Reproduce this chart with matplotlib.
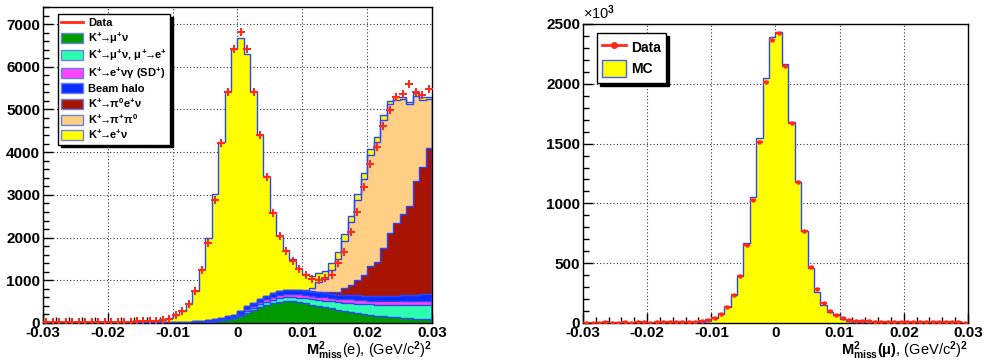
import numpy as np
import matplotlib
matplotlib.use('Agg')
import matplotlib.pyplot as plt
from matplotlib.patches import Patch
from matplotlib.lines import Line2D
from matplotlib.ticker import MultipleLocator

plt.rcParams['font.family'] = ['Liberation Sans', 'DejaVu Sans']
plt.rcParams['font.weight'] = 'bold'
plt.rcParams['mathtext.fontset'] = 'custom'
plt.rcParams['mathtext.rm'] = 'Liberation Sans:bold'
plt.rcParams['mathtext.it'] = 'Liberation Sans:bold'
plt.rcParams['mathtext.bf'] = 'Liberation Sans:bold'

# 60 bins of 0.001 from -0.03 to 0.03
edges = np.round(np.linspace(-0.03, 0.03, 61), 4)
centers = 0.5 * (edges[:-1] + edges[1:])
xticks = [-0.03, -0.02, -0.01, 0, 0.01, 0.02, 0.03]
xticklabels = ['-0.03', '-0.02', '-0.01', '0', '0.01', '0.02', '0.03']

# ---- left panel: M2miss(e), stacked MC components (bottom -> top)
mu2 = [0]*23 + [5, 10, 25, 40, 60, 85, 110, 170, 235, 300, 370, 420, 465, 500, 520,
                515, 490, 460, 430, 400, 370, 340, 310, 285, 265, 240, 215, 195, 175,
                160, 145, 130, 120, 110, 100, 90, 85]
mu2_e = [0]*28 + [5, 10, 20, 45, 55, 70, 80, 85, 85, 85, 95, 105, 115, 125, 140, 150,
                  165, 175, 190, 205, 215, 230, 240, 250, 260, 275, 285, 295, 305, 315,
                  325, 335]
sd_plus = [0]*28 + [10, 15, 25, 40, 45, 50, 55, 60, 65, 70, 75, 80] + [80]*7 + [85]*5 \
    + [90]*5 + [95]*3
halo = [12, 14, 13, 15, 14, 16, 15, 17, 16, 18, 17, 19, 18, 20, 19, 20, 20,
        20, 20, 25, 25, 30, 35, 40, 45, 45, 50, 50, 55, 60, 70, 75, 80, 80, 85, 85,
        90, 90, 95, 95, 95, 95, 95, 95, 100, 100, 100, 100, 105, 110, 115, 120, 125,
        130, 135, 140, 145, 150, 160, 165]
ke3 = [0]*40 + [5, 10, 15, 20, 30, 55, 155, 235, 360, 485, 700, 790, 1115, 1475, 1710,
                1905, 2100, 2670, 2975, 3425]
k2pi = [0]*40 + [20, 90, 230, 315, 515, 780, 1120, 1465, 1875, 2250, 2610, 2830, 3010,
                 3005, 2880, 2690, 2375, 1990, 1585, 1145]
ke2 = [0]*17 + [25, 50, 100, 165, 260, 410, 715, 1205, 1930, 2920, 4120, 5285, 6215,
                6395, 5895, 4960, 3830, 2800, 1895, 1305, 945, 710, 510, 375, 270, 205,
                180, 170, 160, 150, 150, 140, 130, 125, 110, 100, 80, 70, 60, 55, 60, 55, 50]
data_e = [18, 22, 15, 20, 25, 18, 22, 20, 28, 24, 30, 26, 32, 35, 38, 42, 40,
          45, 65, 100, 180, 280, 445, 750, 1250, 1870, 2880, 4220, 5420, 6410, 6820,
          6420, 5420, 4400, 3430, 2570, 2030, 1690, 1460, 1265, 1120, 1020, 1015, 1060,
          1125, 1400, 1660, 2120, 2600, 3180, 3720, 4110, 4610, 4990, 5290, 5355, 5590,
          5400, 5340, 5470]

# ---- right panel: M2miss(mu)
mc_mu = [1, 1, 1, 1, 1, 1, 1, 1, 1, 2, 2, 2, 2, 3, 3, 3, 4, 5, 7, 17, 45, 75, 131,
         234, 393, 666, 1056, 1544, 2046, 2394, 2436, 2163, 1683, 1176, 769, 463, 262,
         150, 95, 67, 35, 18, 9, 5, 4, 4, 3, 3, 3, 2, 2, 2, 2, 2, 1, 1, 1, 1, 1, 1]
data_mu = [3, 4, 3, 5, 4, 3, 5, 4, 6, 5, 4, 6, 7, 6, 8, 9, 10, 12, 15, 25, 45, 72,
           131, 231, 393, 652, 1028, 1511, 2018, 2366, 2422, 2149, 1670, 1176, 769, 471,
           286, 164, 100, 64, 40, 28, 20, 16, 14, 12, 12, 10, 10, 9, 8, 8, 7, 7, 6, 6,
           5, 5, 5, 4]

AR = r'\!\!{\rightarrow}\!\!'
layers = [
    (mu2, '#009a00', r'K$^{+}' + AR + r'\mu^{+}\nu$'),
    (mu2_e, '#2effae', r'K$^{+}' + AR + r'\mu^{+}\nu$, $\mu^{+}' + AR + r'$e$^{+}$'),
    (sd_plus, '#ff44ff', r'K$^{+}' + AR + r'$e$^{+}\nu\gamma$ (SD$^{+}$)'),
    (halo, '#0a2dff', 'Beam halo'),
    (ke3, '#a81404', r'K$^{+}' + AR + r'\pi^{0}$e$^{+}\nu$'),
    (k2pi, '#ffcf86', r'K$^{+}' + AR + r'\pi^{+}\pi^{0}$'),
    (ke2, '#ffff00', r'K$^{+}' + AR + r'$e$^{+}\nu$'),
]

red = '#ff2a18'
outline = '#2a45ff'
grid_kw = dict(color='#333333', linestyle=(0, (1, 2)), linewidth=0.8)


def style_axes(ax, ymajor, yminor):
    ax.set_xlim(-0.03, 0.03)
    ax.set_xticks(xticks)
    ax.set_xticklabels(xticklabels)
    ax.xaxis.set_minor_locator(MultipleLocator(0.002))
    ax.yaxis.set_major_locator(MultipleLocator(ymajor))
    ax.yaxis.set_minor_locator(MultipleLocator(yminor))
    ax.tick_params(which='both', direction='in', top=False, right=False,
                   labelsize=11)
    ax.tick_params(which='major', length=7, width=1)
    ax.tick_params(which='minor', length=4, width=1)
    ax.tick_params(axis='x', pad=2)
    ax.tick_params(axis='y', pad=2)
    ax.grid(True, which='major', **grid_kw)
    for s in ax.spines.values():
        s.set_linewidth(1.0)


fig = plt.figure(figsize=(9.87, 3.63), dpi=100)
ax1 = fig.add_axes([43/987, 40/363, 389/987, 316/363])
ax2 = fig.add_axes([583/987, 40/363, 385/987, 299/363])

# left: stack, drawn from the top cumulative down
cum = np.cumsum(np.array([l[0] for l in layers], dtype=float), axis=0)
for k in range(len(layers) - 1, -1, -1):
    ax1.stairs(cum[k], edges, fill=True, color=layers[k][1], lw=0, zorder=2)
for k in range(len(layers) - 1, -1, -1):
    ax1.stairs(cum[k], edges, color=outline, lw=1.0, zorder=3)
ax1.plot(centers, data_e, 'P', color=red, ms=6, mew=0, zorder=4)
ax1.set_ylim(0, 7400)
style_axes(ax1, 1000, 200)
ax1.set_xlabel(r'$\mathrm{M}^{2}_{\mathrm{miss}}$(e), (GeV/c$^{2}$)$^{2}$',
               fontsize=10.5, loc='right', labelpad=0)

handles = [Line2D([], [], color=red, lw=2, label='Data')]
for vals, col, lab in layers:
    handles.append(Patch(facecolor=col, edgecolor='#6a80e8', lw=1, label=lab))
leg1 = ax1.legend(handles=handles, loc='upper left', bbox_to_anchor=(0.038, 0.978),
                  borderaxespad=0, fontsize=8, fancybox=False, framealpha=1,
                  edgecolor='black', handlelength=2.0, handleheight=1.0,
                  labelspacing=0.2, borderpad=0.3, handletextpad=0.4,
                  shadow={'color': 'black', 'alpha': 1})
leg1.get_frame().set_linewidth(1.0)

# right: MC + data
ax2.stairs(mc_mu, edges, fill=True, color='#ffff00', lw=0, zorder=2)
ax2.stairs(mc_mu, edges, color=outline, lw=1.0, zorder=3)
ax2.errorbar(centers, data_mu, xerr=0.0005, fmt='o', color=red, ms=2.2, lw=1.6,
             capsize=0, zorder=4)
ax2.set_ylim(0, 2500)
style_axes(ax2, 500, 100)
ax2.set_xlabel(r'$\mathrm{M}^{2}_{\mathrm{miss}}(\mu)$, (GeV/c$^{2}$)$^{2}$',
               fontsize=10.5, loc='right', labelpad=0)
ax2.text(0.0, 1.008, r'×10$^{3}$', transform=ax2.transAxes, ha='left', va='bottom',
         fontsize=10.5, fontweight='normal')

handles2 = [Line2D([], [], color=red, lw=2, marker='o', ms=4, label='Data'),
            Patch(facecolor='#ffff00', edgecolor='#4060ff', lw=1, label='MC')]
leg2 = ax2.legend(handles=handles2, loc='upper left', bbox_to_anchor=(0.036, 0.97),
                  borderaxespad=0, fontsize=10, fancybox=False, framealpha=1,
                  edgecolor='black', handlelength=1.7, handleheight=1.5,
                  labelspacing=0.35, borderpad=0.4, handletextpad=0.35,
                  shadow={'color': 'black', 'alpha': 1})
leg2.get_frame().set_linewidth(1.0)

fig.savefig('out.png', dpi=100)
